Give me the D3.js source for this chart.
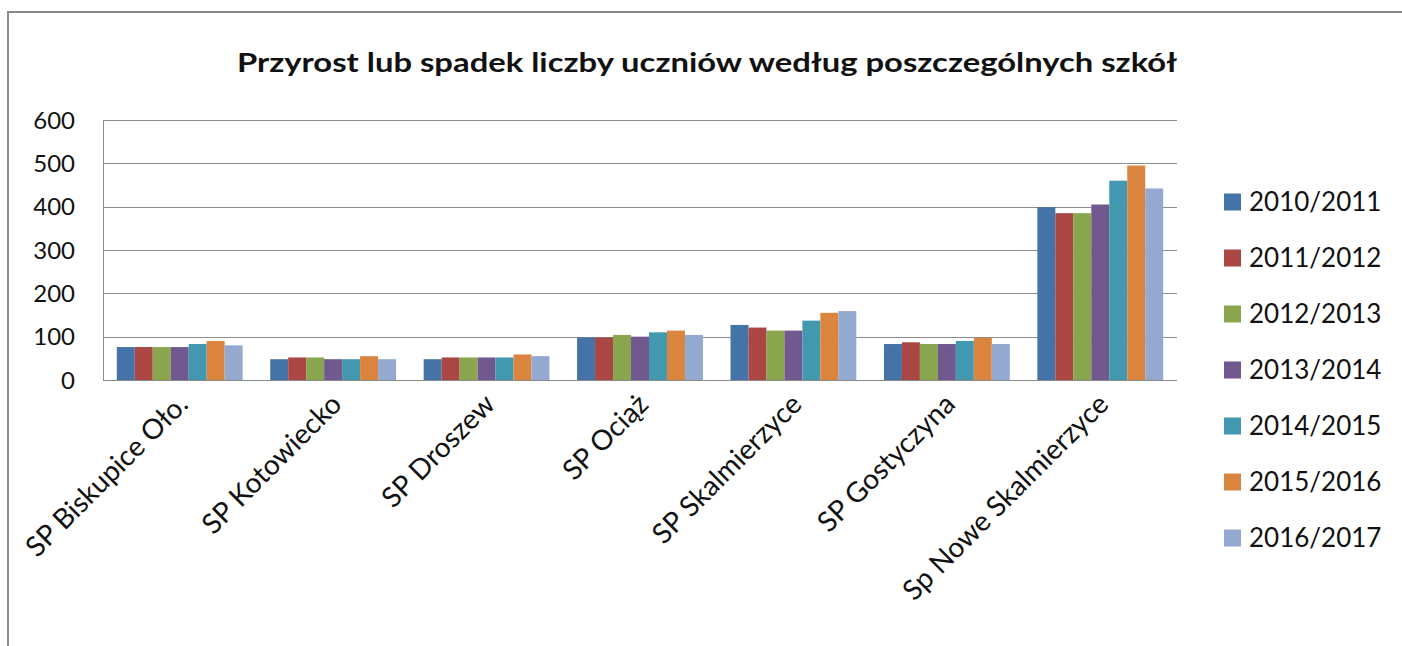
<!DOCTYPE html>
<html>
<head>
<meta charset="utf-8">
<script src="https://cdn.jsdelivr.net/npm/d3@7"></script>
<style>
  body { margin: 0; background: #fff; }
  svg { display: block; }
</style>
</head>
<body>
<div id="chart"></div>
<script>
// data
const schools = ['SP Biskupice Oło.', 'SP Kotowiecko', 'SP Droszew', 'SP Ociąż',
    'SP Skalmierzyce', 'SP Gostyczyna', 'Sp Nowe Skalmierzyce'];
const years = ['2010/2011', '2011/2012', '2012/2013', '2013/2014', '2014/2015', '2015/2016', '2016/2017'];
const colors = ['#4572A7', '#AA4643', '#89A54E', '#71588F', '#4198AF', '#DB843D', '#93A9CF'];
// one array per school year, values in school order
const v2010 = [76, 48, 48, 98, 127, 83, 399];
const v2011 = [76, 52, 52, 98, 121, 87, 385];
const v2012 = [76, 52, 52, 104, 114, 83, 385];
const v2013 = [76, 48, 52, 100, 114, 83, 405];
const v2014 = [83, 48, 52, 110, 137, 90, 460];
const v2015 = [90, 55, 59, 114, 155, 97, 495];
const v2016 = [80, 48, 55, 104, 159, 83, 442];
const series = [v2010, v2011, v2012, v2013, v2014, v2015, v2016];
const yTicks = [0, 100, 200, 300, 400, 500, 600];

const W = 1402, H = 646;
const font = 'Lato, "Open Sans", sans-serif';

const svg = d3.select('#chart').append('svg')
    .attr('width', W)
    .attr('height', H);

// chart area frame
svg.append('path')
    .attr('d', 'M8,' + H + 'V12H' + W)
    .attr('fill', 'none')
    .attr('stroke', '#8a8a8a')
    .attr('stroke-width', 2);

const plotLeft = 103, plotRight = 1177, plotTop = 120, plotBottom = 380;

const x0 = d3.scaleBand()
    .domain(schools)
    .range([plotLeft, plotRight])
    .paddingInner(0.18)
    .paddingOuter(0.09);

const x1 = d3.scaleBand()
    .domain(d3.range(years.length))
    .range([0, x0.bandwidth()]);

const y = d3.scaleLinear()
    .domain([0, 600])
    .range([plotBottom, plotTop]);

// gridlines
svg.append('g')
    .selectAll('line')
    .data(yTicks.filter(d => d > 0))
    .join('line')
    .attr('x1', plotLeft)
    .attr('x2', plotRight)
    .attr('y1', d => Math.round(y(d)) + 0.5)
    .attr('y2', d => Math.round(y(d)) + 0.5)
    .attr('stroke', '#8c8c8c')
    .attr('stroke-width', 1);

// bars
schools.forEach((s, i) => {
    const g = svg.append('g')
        .attr('transform', 'translate(' + x0(s) + ',0)');
    g.selectAll('rect')
        .data(series.map((arr, k) => ({ k: k, v: arr[i] })))
        .join('rect')
        .attr('x', d => x1(d.k))
        .attr('width', x1.bandwidth())
        .attr('y', d => y(d.v))
        .attr('height', d => y(0) - y(d.v))
        .attr('fill', d => colors[d.k]);
});

// axes lines
svg.append('line')
    .attr('x1', plotLeft + 0.5).attr('x2', plotLeft + 0.5)
    .attr('y1', plotTop).attr('y2', plotBottom + 1)
    .attr('stroke', '#8c8c8c');
svg.append('line')
    .attr('x1', plotLeft).attr('x2', plotRight)
    .attr('y1', Math.round(y(0)) + 0.5).attr('y2', Math.round(y(0)) + 0.5)
    .attr('stroke', '#8c8c8c');

// y tick labels
svg.append('g')
    .selectAll('text')
    .data(yTicks)
    .join('text')
    .attr('x', 75)
    .attr('y', d => y(d))
    .attr('dy', '0.36em')
    .attr('text-anchor', 'end')
    .attr('font-family', font)
    .attr('font-size', '24px')
    .attr('fill', '#111')
    .text(d => d);

// category labels, rotated
svg.append('g')
    .selectAll('text')
    .data(schools)
    .join('text')
    .attr('transform', d => 'translate(' + (x0(d) + x0.bandwidth() / 2 + 10) + ',' + 406 + ') rotate(-45)')
    .attr('text-anchor', 'end')
    .attr('font-family', font)
    .attr('font-size', '28px')
    .attr('fill', '#111')
    .text(d => d);

// title
svg.append('text')
    .attr('x', 707)
    .attr('y', 72)
    .attr('text-anchor', 'middle')
    .attr('font-family', font)
    .attr('font-weight', 'bold')
    .attr('font-size', '27px')
    .attr('fill', '#111')
    .attr('textLength', 940)
    .attr('lengthAdjust', 'spacingAndGlyphs')
    .text('Przyrost lub spadek liczby uczniów według poszczególnych szkół');

// legend
const legend = svg.append('g');
years.forEach((yr, i) => {
    const cy = 202 + i * 56;
    legend.append('rect')
        .attr('x', 1224)
        .attr('y', cy - 8.5)
        .attr('width', 17)
        .attr('height', 17)
        .attr('fill', colors[i]);
    legend.append('text')
        .attr('x', 1249)
        .attr('y', cy)
        .attr('dy', '0.36em')
        .attr('font-family', font)
        .attr('font-size', '26px')
        .attr('fill', '#111')
        .text(yr);
});
</script>
</body>
</html>
